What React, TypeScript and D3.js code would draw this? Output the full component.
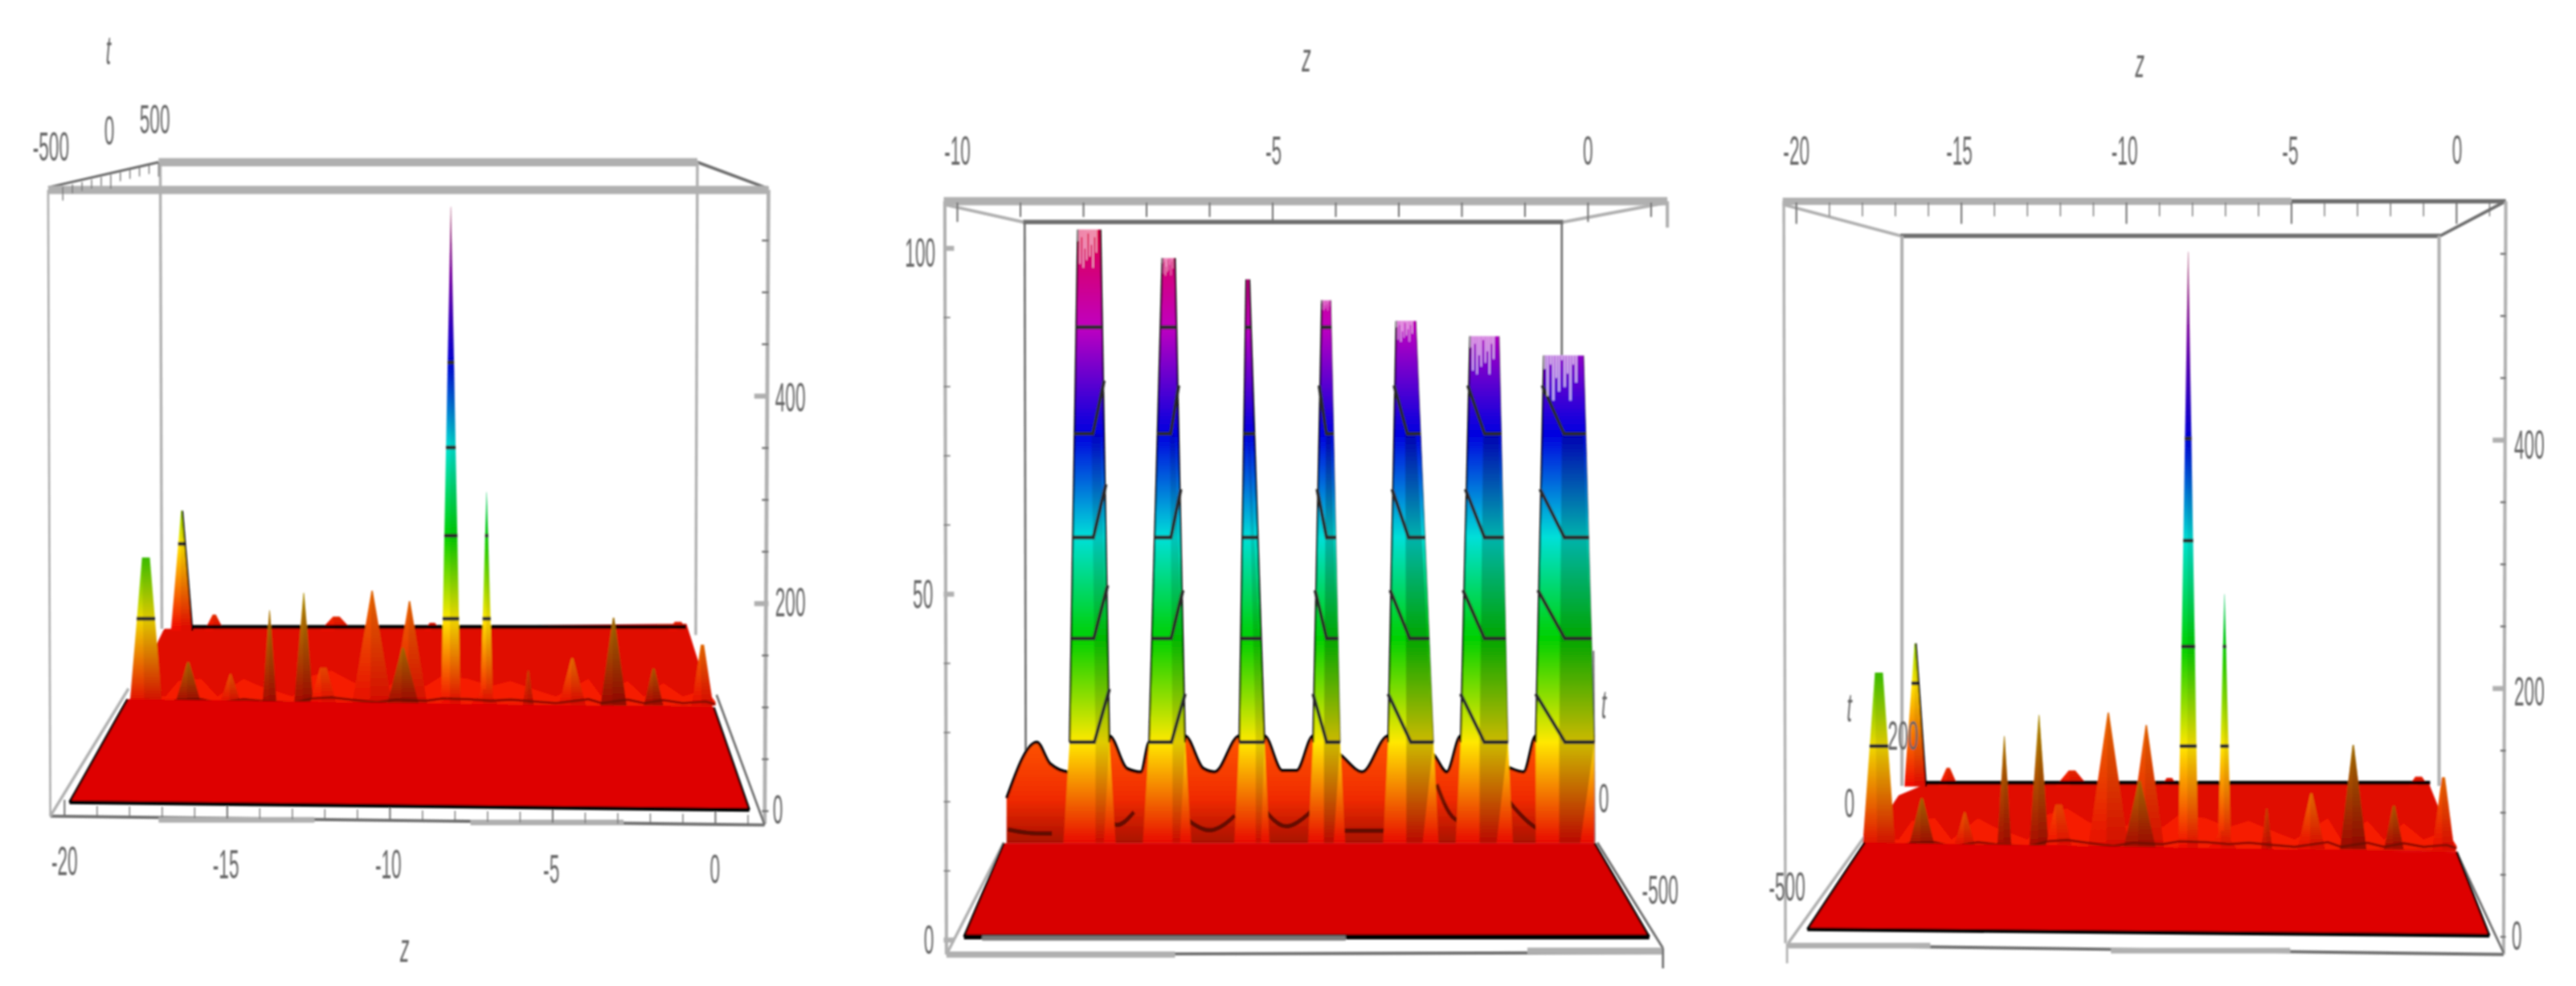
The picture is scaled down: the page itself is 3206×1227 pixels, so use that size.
import React from "react";
import * as d3 from "d3";

// ---------- data ----------
// Shared surface (outer panels): spikes along z
const peakZ = [-16.4, -15.4, -11.65, -8.7, -1.15, -17.5, -13.7, -12.65, -10.55, -9.4, -8.13, -7.03, -3.13, -16.2, -14.9, -12.05, -9.6, -7.1, -5.75, -4.4, -1.9, -0.4];
const peakH = [112, 12, 10, 4, 5, 139, 88, 105, 107, 97, 477, 202, 81, 38, 27, 33, 52, 12, 30, 42, 32, 55];
const peakColor = [112, 12, 10, 4, 5, 139, 62, 72, 36, 34, 477, 202, 58, 50, 30, 22, 52, 12, 25, 38, 42, 36];
const peakHalfWidth = [0.33, 0.3, 0.5, 0.25, 0.3, 0.5, 0.22, 0.3, 0.62, 0.55, 0.3, 0.2, 0.4, 0.42, 0.35, 0.42, 0.5, 0.45, 0.17, 0.42, 0.3, 0.33];
const peakTopWidth = [0.02, 0.05, 0.1, 0.08, 0.1, 0.12, 0.01, 0.01, 0.02, 0.02, 0.005, 0.005, 0.02, 0.03, 0.02, 0.1, 0.03, 0.05, 0.02, 0.03, 0.03, 0.05];
const peakRow = ["back", "back", "back", "back", "back", "front", "front", "front", "front", "front", "front", "front", "front", "front", "front", "front", "front", "front", "front", "front", "front", "front"];
const peakShade = [0, 0, 0, 0, 0, 0.06, 0.3, 0.3, 0.04, 0.04, 0, 0, 0.34, 0.3, 0.05, 0, 0.3, 0, 0.15, 0.03, 0.28, 0.03];
const contourLevels = [80, 160, 245, 327];
const rampValues = [0, 80, 160, 245, 327, 410, 477];
const rampColors = ["#f01000", "#ffe600", "#00d000", "#00e0d0", "#0000d8", "#7800a8", "#a83868"];
const frontRidgeZ = [-17.9, -16.9, -16.5, -15.8, -15.3, -14.5, -14, -13, -12.4, -11.8, -11.2, -10.4, -9.8, -8.9, -8.4, -7.6, -6.9, -6.3, -5.4, -4.9, -3.9, -3.5, -2.7, -2.2, -1.6, -1, -0.3, 0];
const frontRidgeH = [5, 5, 20, 22, 5, 22, 15, 5, 25, 30, 20, 8, 20, 15, 25, 22, 15, 20, 10, 5, 22, 5, 20, 5, 18, 5, 12, 0];

// Middle panel: seven tall columns
const colLeftBase = [-8.22, -6.96, -5.53, -4.36, -3.17, -2.02, -0.83];
const colRightBase = [-7.59, -6.39, -5.13, -3.93, -2.45, -1.27, 0.1];
const colLeftTop = [-8.09, -6.75, -5.42, -4.22, -3.04, -1.87, -0.7];
const colRightTop = [-7.73, -6.55, -5.37, -4.08, -2.73, -1.41, -0.07];
const colTop = [102.7, 98.6, 95.5, 92.5, 89.5, 87.3, 84.5];
const colLift = [7.7, 7, 0, -7, -7, -7, -7];
const colTeeth = [5.5, 2.5, 0, 1.5, 3, 5.5, 6.5];
const toothPattern = [0.3, 0.9, 0.2, 1, 0.5, 0.8, 0.1, 0.7, 0.4, 1, 0.2, 0.6, 0, 0];
const colLevels = [28.6, 43.6, 58.2, 73.2, 88.6];
const colRampValues = [14, 28.6, 43.6, 58.2, 73.2, 88.6, 102];
const colRampColors = ["#e80a00", "#ffe800", "#00d000", "#00e0d8", "#0000e0", "#c000c0", "#e00050"];
const archZ = [-9.22, -8.74, -8.53, -8.22, -7.59, -7.31, -7.09, -6.96, -6.39, -6.1, -5.92, -5.53, -5.13, -4.85, -4.62, -4.36, -3.93, -3.58, -3.17, -2.45, -2.24, -2.02, -1.27, -1.02, -0.83, 0.1];
const archV = [20.5, 28.6, 25.5, 24.3, 29.5, 24.8, 24.3, 28.6, 29.5, 24.8, 24.3, 29.5, 29.5, 24.5, 24.5, 29.5, 26.8, 24.3, 29.5, 26.8, 24.3, 29.5, 25, 24.3, 29.5, 29.5];
const bowlZ = [[-9.2, -8.9, -8.5], [-7.8, -7.5, -7.2], [-6.5, -6, -5.6], [-5.1, -4.8, -4.4], [-3.9, -3.6, -3.2], [-2.4, -2.1, -1.7], [-1.25, -0.75, -0.25]];
const bowlV = [[16, 15.4, 15.4], [20, 15.4, 18.5], [18.5, 14.7, 18], [18.5, 15.4, 18.5], [15.8, 15.8, 15.8], [22.5, 15.4, 20], [20, 14.7, 16.6]];

const SVGW = 3206, SVGH = 1227;
const GSX = 1 / 1.469;
const GSY = 1 / 1.278;
const GRAY = "#b0b0b0", DARK = "#6e6e6e";

type Seg = number[];
const Line = ({ s }: { s: Seg[] }) => (
  <g fill="none" strokeLinecap="butt">
    {s.map((q, i) => (
      <line key={i} x1={q[0]} y1={q[1]} x2={q[2]} y2={q[3]} strokeWidth={q[4]} stroke={q[5] === 1 ? DARK : GRAY} />
    ))}
  </g>
);

const Label = ({ x, y, t, it }: { x: number; y: number; t: string; it?: boolean }) => (
  <text
    transform={`translate(${x},${y}) scale(0.52,1)`}
    textAnchor="middle"
    dominantBaseline="central"
    fontFamily="'Liberation Sans', Arial, sans-serif"
    fontStyle={it ? "italic" : "normal"}
    fontSize={64}
    fill="#666"
  >
    {t}
  </text>
);

type WideCfg = {
  id: string;
  ox: number;
  zRange: number[];
  hRange: number[];
  k: number;
  front: number;
  back: number;
  floorFront: number[][];
  midPoly: number[][];
  backZ: number[];
  behind: Seg[];
  labels: [number, number, string, boolean?][];
  zTickY: (z: number) => number[];
  hTickX: number[];
  hMajor: number[];
  extraTicks?: Seg[];
};

function WidePanel({ c }: { c: WideCfg }) {
  const zs = d3.scaleLinear().domain([-20, 0]).range(c.zRange);
  const hs = d3.scaleLinear().domain([0, 400]).range(c.hRange);
  const ps = d3.scaleLinear().domain([0, 100]).range([0, 100 * c.k]);
  const lp = d3.line();
  const colorScale = d3.scaleLinear<string>().domain(rampValues).range(rampColors);
  const baseY = (r: string) => (r === "front" ? c.front : c.back);

  const peak = (i: number) => {
    const z = peakZ[i], w = peakHalfWidth[i], tw = peakTopWidth[i];
    const b = baseY(peakRow[i]);
    const top = b - ps(peakH[i]);
    const pts: [number, number][] = [
      [zs(z - w), b + 6],
      [zs(z - tw), top],
      [zs(z + tw), top],
      [zs(z + w), b + 6],
    ];
    return { pts, b, top };
  };

  const defs = peakZ.map((_, i) => {
    const { b, top } = peak(i);
    const cm = peakColor[i];
    const stops = rampValues.filter((v) => v < cm);
    return (
      <linearGradient key={i} id={`${c.id}p${i}`} gradientUnits="userSpaceOnUse" x1={0} x2={0} y1={b} y2={top}>
        {stops.map((v) => (
          <stop key={v} offset={v / cm} stopColor={colorScale(v)} />
        ))}
        <stop offset={1} stopColor={colorScale(cm)} />
      </linearGradient>
    );
  });

  const drawPeak = (i: number) => {
    const { pts, b } = peak(i);
    const z = peakZ[i];
    const H = peakH[i], cm = peakColor[i];
    const w = peakHalfWidth[i], tw = peakTopWidth[i];
    return (
      <g key={i}>
        <path d={lp(pts) + "Z"} fill={`url(#${c.id}p${i})`} />
        {peakShade[i] > 0 && <path d={lp(pts) + "Z"} fill="#000" opacity={peakShade[i]} />}
        <path d={lp([[zs(z - w * 0.1), b + 6], pts[1], pts[2], [zs(z + w), b + 6]]) + "Z"} fill="#000" opacity={0.07} />
        {contourLevels
          .filter((l) => l < cm && cm >= 70)
          .map((l) => {
            const f = l / cm;
            const y = b - ps(f * H);
            const hw = w + (tw - w) * f;
            return <line key={l} x1={zs(z - hw)} x2={zs(z + hw)} y1={y} y2={y} stroke="#2c2c2c" strokeWidth={6} />;
          })}
      </g>
    );
  };

  const idxBack = peakRow.map((r, i) => (r === "back" ? i : -1)).filter((i) => i >= 0);
  const idxFront = peakRow.map((r, i) => (r === "front" ? i : -1)).filter((i) => i >= 0);
  const ridgePts: [number, number][] = frontRidgeZ.map((z, i) => [zs(z), c.front - ps(frontRidgeH[i])]);
  const ridgeDark: [number, number][] = frontRidgeZ.map((z, i) => [zs(z), c.front + 4 - ps(frontRidgeH[i]) * 0.22]);
  const backPts: [number, number][] = c.backZ.map((z) => [zs(z), c.back]);

  const zTicks = d3.range(-20, 2, 1);
  const hTicks = d3.range(0, 560, 50);

  return (
    <g transform={`translate(${c.ox},0) scale(${GSX},${GSY})`}>
      <defs>{defs}</defs>
      <Line s={c.behind} />
      {zTicks.map((z) => {
        const [a, b] = c.zTickY(z);
        const m = z % 5 === 0;
        return <line key={z} x1={zs(z)} x2={zs(z)} y1={a} y2={m ? b : a + (b - a) * 0.65} stroke={DARK} strokeWidth={m ? 3 : 2} />;
      })}
      {hTicks
        .filter((h) => hs(h) > 340)
        .map((h) => (
          <line key={h} x1={c.hMajor.includes(h) ? c.hTickX[0] - 14 : c.hTickX[0]} x2={c.hTickX[1]} y1={hs(h)} y2={hs(h)} stroke={c.hMajor.includes(h) ? GRAY : DARK} strokeWidth={c.hMajor.includes(h) ? 8 : 3} />
        ))}
      {c.extraTicks && <Line s={c.extraTicks} />}
      <path d={lp(c.midPoly as [number, number][]) + "Z"} fill="#e00e00" />
      {idxBack.map(drawPeak)}
      <path d={lp(backPts)!} fill="none" stroke="#000" strokeWidth={6} />
      <path d={lp([peak(0).pts[2], peak(0).pts[3]])!} stroke="#000" strokeWidth={3} fill="none" />
      <path
        d={lp([[zs(-18.1), c.front + 6], ...ridgePts, [zs(0), c.front + 6]] as [number, number][]) + "Z"}
        fill="#f61a00"
      />
      {idxFront.map(drawPeak)}
      <path d={lp(ridgeDark)!} fill="none" stroke="#5a0a00" strokeWidth={4} opacity={0.65} />
      <path d={lp(c.floorFront as [number, number][]) + "Z"} fill="#de0000" />
      <path d={lp([c.floorFront[0], c.floorFront[1]] as [number, number][])!} stroke="#000" strokeWidth={6} fill="none" />
      <path d={lp([c.floorFront[1], c.floorFront[2]] as [number, number][])!} stroke="#000" strokeWidth={4} fill="none" />
      <path d={lp([c.floorFront[0], c.floorFront[3]] as [number, number][])!} stroke="#000" strokeWidth={4} fill="none" />
      {c.labels.map((l, i) => (
        <Label key={i} x={l[0]} y={l[1]} t={l[2]} it={l[3]} />
      ))}
    </g>
  );
}

const panel1: WideCfg = {
  id: "a",
  ox: 0,
  zRange: [118, 1308],
  hRange: [1290, 630],
  k: 1.65,
  front: 1116,
  back: 997,
  floorFront: [[127, 1276], [1370, 1288], [1305, 1125], [233, 1112]],
  midPoly: [[233, 1120], [1305, 1130], [1255, 992], [300, 1000]],
  backZ: [-16.1, -15.7, -15.4, -15.1, -11.9, -11.65, -11.3, -8.9, -8.7, -8.4, -1.4, -1.2, -0.9],
  behind: [
    [88, 298, 290, 258, 4, 1],
    [290, 258, 1275, 258, 13, 0],
    [1275, 258, 1405, 300, 5, 1],
    [293, 258, 296, 1000, 5, 0],
    [1275, 258, 1272, 1010, 5, 0],
    [88, 302, 1405, 302, 13, 0],
    [88, 302, 92, 1298, 4, 0],
    [1405, 302, 1398, 1310, 7, 0],
    [92, 1298, 1398, 1312, 5, 1],
    [290, 1304, 575, 1304, 9, 0],
    [860, 1308, 1140, 1308, 9, 0],
    [92, 1298, 235, 1095, 5, 0],
    [1398, 1312, 1310, 1105, 4, 1],
  ],
  labels: [
    [93, 233, "-500"], [200, 208, "0"], [283, 190, "500"], [198, 80, "t", true], [740, 1508, "z", true],
    [118, 1370, "-20"], [413, 1375, "-15"], [710, 1375, "-10"], [1008, 1382, "-5"], [1307, 1382, "0"],
    [1445, 632, "400"], [1445, 958, "200"], [1422, 1288, "0"],
  ],
  zTickY: (z) => [1298 + (z + 20) * 0.7, 1298 + (z + 20) * 0.7 - 26],
  hTickX: [1393, 1405],
  hMajor: [200, 400],
  extraTicks: d3.range(-500, 501, 100).map((t) => {
    const f = (t + 500) / 1000;
    const x = 115 + f * 175;
    const y = 297 - f * 38;
    return [x, y, x, y + (t % 500 === 0 ? 22 : 14), 2, 1];
  }),
};

const panel3: WideCfg = {
  id: "c",
  ox: 2137,
  zRange: [145, 1352],
  hRange: [1490, 700],
  k: 1.98,
  front: 1345,
  back: 1245,
  floorFront: [[165, 1478], [1412, 1488], [1352, 1355], [270, 1340]],
  midPoly: [[270, 1345], [1352, 1355], [1300, 1243], [392, 1243], [332, 1265]],
  backZ: [-16.1, -15.7, -15.4, -15.1, -11.9, -11.65, -11.3, -8.9, -8.7, -8.4, -1.4, -1.2, -0.8],
  behind: [
    [120, 325, 335, 375, 5, 0],
    [335, 375, 1322, 375, 7, 1],
    [1322, 375, 1442, 320, 5, 1],
    [338, 375, 338, 1250, 6, 0],
    [1320, 375, 1320, 1250, 6, 0],
    [120, 320, 1050, 320, 12, 0],
    [1050, 320, 1442, 320, 7, 1],
    [122, 320, 125, 1500, 5, 0],
    [1442, 320, 1438, 1518, 6, 0],
    [130, 1503, 1438, 1518, 5, 1],
    [130, 1504, 390, 1504, 9, 0],
    [720, 1512, 1048, 1512, 9, 0],
    [130, 1500, 270, 1330, 5, 0],
    [1438, 1515, 1352, 1355, 4, 1],
    [128, 1500, 128, 1532, 4, 0],
  ],
  labels: [
    [773, 100, "z", true], [145, 240, "-20"], [443, 240, "-15"], [745, 240, "-10"], [1048, 240, "-5"], [1353, 238, "0"],
    [1485, 708, "400"], [1485, 1100, "200"], [1462, 1488, "0"], [242, 1125, "t", true], [340, 1170, "200"], [242, 1278, "0"], [128, 1410, "-500"],
  ],
  zTickY: () => [322, 356],
  hTickX: [1432, 1442],
  hMajor: [200, 400],
};

function MiddlePanel() {
  const ox = 1069;
  const zs = d3.scaleLinear().domain([-10, 0]).range([180, 1333]);
  const vs = d3.scaleLinear().domain([0, 100]).range([1495, 395]);
  const lp = d3.line();
  const widthAt = (i: number, v: number) => {
    const f = (v - colLevels[0]) / (colTop[i] - colLevels[0]);
    return [colLeftBase[i] + (colLeftTop[i] - colLeftBase[i]) * f, colRightBase[i] + (colRightTop[i] - colRightBase[i]) * f];
  };
  const y0 = vs(14);
  const archCurve = d3.line().curve(d3.curveMonotoneX)(archZ.map((z, i) => [zs(z), vs(archV[i])] as [number, number]))!;
  const archClosed = `M${zs(archZ[0])},${y0}L${archCurve.slice(1)}L${zs(archZ[archZ.length - 1])},${y0}Z`;
  const flare = [0.1, 0.1, 0.08, 0.08, 0.08, 0.08, 0];
  const seg: Seg[] = [
    [155, 320, 1478, 320, 13, 0],
    [300, 353, 1288, 353, 7, 1],
    [155, 325, 300, 353, 5, 0],
    [1478, 322, 1288, 353, 5, 0],
    [157, 320, 160, 1518, 6, 0],
    [303, 353, 305, 1225, 4, 1],
    [1285, 353, 1285, 565, 4, 1],
    [1478, 320, 1478, 362, 6, 0],
    [160, 1518, 1470, 1515, 5, 1],
    [160, 1518, 578, 1518, 10, 0],
    [1222, 1512, 1470, 1512, 10, 0],
    [160, 1518, 265, 1340, 5, 0],
    [1470, 1508, 1350, 1340, 4, 1],
    [1470, 1508, 1470, 1540, 4, 1],
    [1343, 1035, 1345, 1340, 3, 1],
  ];
  return (
    <g transform={`translate(${ox},0) scale(${GSX},${GSY})`}>
      <defs>
        <linearGradient id="colRamp" gradientUnits="userSpaceOnUse" x1={0} x2={0} y1={vs(14)} y2={vs(102)}>
          {colRampValues.map((v, i) => (
            <stop key={v} offset={(v - 14) / 88} stopColor={colRampColors[i]} />
          ))}
        </linearGradient>
        <linearGradient id="archFill" gradientUnits="userSpaceOnUse" x1={0} x2={0} y1={vs(30)} y2={vs(14)}>
          <stop offset={0} stopColor="#ff5a00" />
          <stop offset={0.6} stopColor="#f02a00" />
          <stop offset={1} stopColor="#a81000" />
        </linearGradient>
      </defs>
      <Line s={seg} />
      {d3.range(-10, 2).map((z) => (
        <line key={z} x1={zs(z)} x2={zs(z)} y1={322} y2={z % 5 === 0 ? 353 : 345} stroke={DARK} strokeWidth={3} />
      ))}
      {d3.range(0, 101, 10).map((v) => (
        <line key={v} x1={155} x2={v % 50 === 0 ? 174 : 167} y1={vs(v)} y2={vs(v)} stroke={v % 50 === 0 ? GRAY : DARK} strokeWidth={v % 50 === 0 ? 8 : 2} />
      ))}
      <path d={archClosed} fill="url(#archFill)" />
      <path d={archCurve} fill="none" stroke="#000" strokeWidth={5} />
      {bowlZ.map((b, i) => (
        <path
          key={i}
          d={d3.line<number>().x((z) => zs(z)).y((_, j) => vs(bowlV[i][j])).curve(d3.curveBasis)(b)!}
          fill="none"
          stroke="#3a0800"
          strokeWidth={7}
          opacity={0.7}
        />
      ))}
      {colTop.map((top, i) => {
        const [lt, rt] = [colLeftTop[i], colRightTop[i]];
        const [lb, rb] = [colLeftBase[i], colRightBase[i]];
        const poly: [number, number][] = [
          [zs(lb - flare[i]), y0],
          [zs(lb), vs(colLevels[0])],
          [zs(lt), vs(top)],
          [zs(rt), vs(top)],
          [zs(rb), vs(colLevels[0])],
          [zs(rb + flare[i]), y0],
        ];
        const mid = lb + (rb - lb) * (i < 3 ? 0.65 : 0.4);
        const shadeL: [number, number][] = [
          [zs(mid), y0],
          [zs(mid), vs(colLevels[0])],
          [zs(lt + (rt - lt) * (i < 3 ? 0.6 : 0.45)), vs(colLevels[3])],
          [zs(rt), vs(colLevels[3])],
          [zs(rb), vs(colLevels[0])],
          [zs(mid + (rb - mid) * 0.6), y0],
        ];
        const lift = colLift[i];
        const kink = lift > 0 ? 0.62 : 0.5;
        const nT = 14;
        return (
          <g key={i}>
            <path d={lp(poly) + "Z"} fill="url(#colRamp)" />
            <path d={lp(shadeL) + "Z"} fill="#000" opacity={i > 2 ? 0.2 : 0.12} />
            <path d={lp([poly[1], poly[2]])!} fill="none" stroke="#000" strokeWidth={3} />
            <path d={lp([poly[3], poly[4]])!} fill="none" stroke="#000" strokeWidth={i > 2 ? 1 : 3} />
            {colLevels.filter((l) => l < top - 2).map((l, k) => {
              const [a, b] = widthAt(i, l);
              const up = k < 4 ? lift : 0;
              const m = a + (b - a) * kink;
              const pts: [number, number][] =
                up > 0
                  ? [[zs(a), vs(l)], [zs(m), vs(l)], [zs(b), vs(l + up)]]
                  : up < 0
                  ? [[zs(a), vs(l - up)], [zs(m), vs(l)], [zs(b), vs(l)]]
                  : [[zs(a), vs(l)], [zs(b), vs(l)]];
              return <path key={l} d={lp(pts)!} fill="none" stroke="#2c2c2c" strokeWidth={6} />;
            })}
            {colTeeth[i] > 0 &&
              d3.range(nT).map((j) => {
                const x = lt + ((rt - lt) * j) / nT;
                const d = colTeeth[i] * toothPattern[j];
                return d > 0 ? (
                  <rect key={j} x={zs(x)} width={((zs(rt) - zs(lt)) / nT) * 0.7} y={vs(top)} height={vs(top - d) - vs(top)} fill="#fff" opacity={0.72} />
                ) : null;
              })}
          </g>
        );
      })}
      <path d={lp([[192, 1490], [1445, 1490], [1345, y0], [265, y0]]) + "Z"} fill="#d80000" />
      <path d={lp([[192, 1490], [1445, 1490]])!} stroke="#000" strokeWidth={8} fill="none" />
      <path d={lp([[225, 1492], [890, 1492]])!} stroke="#7a7a7a" strokeWidth={8} fill="none" />
      <path d={lp([[265, y0], [192, 1490]])!} stroke="#000" strokeWidth={4} fill="none" />
      <path d={lp([[1345, y0], [1445, 1490]])!} stroke="#000" strokeWidth={4} fill="none" />
      {([
        [818, 92, "z", true], [180, 240, "-10"], [758, 240, "-5"], [1333, 240, "0"], [112, 402, "100"], [117, 945, "50"], [128, 1495, "0"],
        [1362, 1120, "t", true], [1362, 1270, "0"], [1465, 1415, "-500"],
      ] as [number, number, string, boolean?][]).map((l, i) => (
        <Label key={i} x={l[0]} y={l[1]} t={l[2]} it={l[3]} />
      ))}
    </g>
  );
}

export default function App() {
  return (
    <svg width={SVGW} height={SVGH} viewBox={`0 0 ${SVGW} ${SVGH}`} style={{ position: "absolute", left: 0, top: 0, background: "#fff" }}>
      <defs>
        <filter id="soft" x="0" y="0" width="100%" height="100%">
          <feGaussianBlur stdDeviation="0.9" />
        </filter>
      </defs>
      <g filter="url(#soft)">
        <WidePanel c={panel1} />
        <MiddlePanel />
        <WidePanel c={panel3} />
      </g>
    </svg>
  );
}
